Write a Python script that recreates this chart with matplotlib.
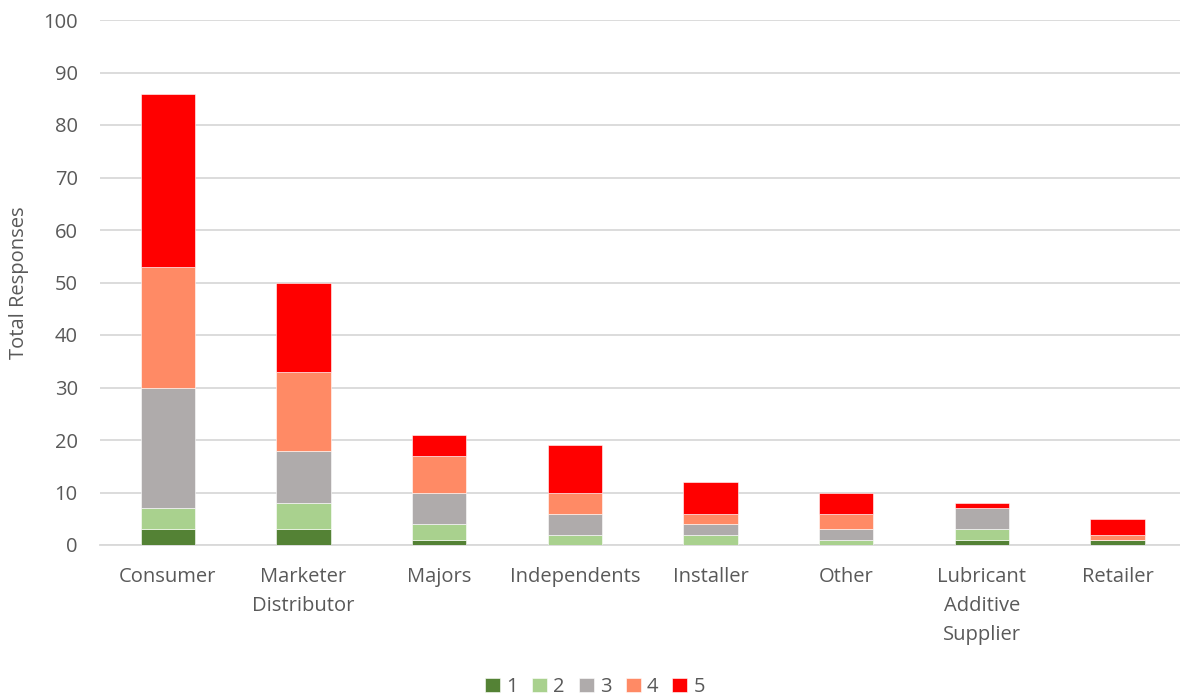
import matplotlib
matplotlib.use('Agg')
import matplotlib.pyplot as plt
import numpy as np

plt.rcParams['font.family'] = ['Open Sans', 'DejaVu Sans']

categories = ['Consumer', 'Marketer\nDistributor', 'Majors', 'Independents',
              'Installer', 'Other', 'Lubricant\nAdditive\nSupplier', 'Retailer']
rating_labels = ['1', '2', '3', '4', '5']
rating_1 = [3, 3, 1, 0, 0, 0, 1, 1]
rating_2 = [4, 5, 3, 2, 2, 1, 2, 0]
rating_3 = [23, 10, 6, 4, 2, 2, 4, 0]
rating_4 = [23, 15, 7, 4, 2, 3, 0, 1]
rating_5 = [33, 17, 4, 9, 6, 4, 1, 3]
colors = ['#548235', '#A9D18E', '#AFABAB', '#FF8A65', '#FF0000']

text_color = '#595959'
grid_color = '#D9D9D9'
font_size = 14.5

fig = plt.figure(figsize=(11.8, 6.98), dpi=100, facecolor='white')
ax = fig.add_axes([100 / 1180, 153 / 698, 1080 / 1180, 525 / 698])

x = np.arange(len(categories))
bottom = np.zeros(len(categories))
for label, values, color in zip(rating_labels,
                                [rating_1, rating_2, rating_3, rating_4, rating_5],
                                colors):
    ax.bar(x, values, width=0.4, bottom=bottom, color=color, label=label,
           edgecolor='white', linewidth=0.4, zorder=3)
    bottom += np.array(values)

ax.set_xlim(-0.5, 7.46)
ax.set_ylim(0, 100)
ax.set_yticks(range(0, 101, 10))
ax.set_xticks(x)
ax.set_xticklabels(categories, linespacing=1.6, va='top')
ax.tick_params(axis='both', length=0, colors=text_color, labelsize=font_size)
ax.tick_params(axis='x', pad=16)
ax.tick_params(axis='y', pad=16)

ax.grid(axis='y', color=grid_color, linewidth=1.3, zorder=0)
for side in ['top', 'right', 'left']:
    ax.spines[side].set_visible(False)
ax.spines['bottom'].set_color(grid_color)
ax.spines['bottom'].set_linewidth(1.3)

ax.set_ylabel('Total Responses', fontsize=font_size, color=text_color, labelpad=10)

fig.legend(*ax.get_legend_handles_labels(), loc='center',
           bbox_to_anchor=(595 / 1180, 11 / 698), ncol=5,
           frameon=False, fontsize=font_size, labelcolor=text_color,
           handlelength=0.75, handleheight=0.75, handletextpad=0.3,
           columnspacing=0.7, borderpad=0)

plt.savefig('out.png', dpi=100, facecolor='white')
plt.close()
